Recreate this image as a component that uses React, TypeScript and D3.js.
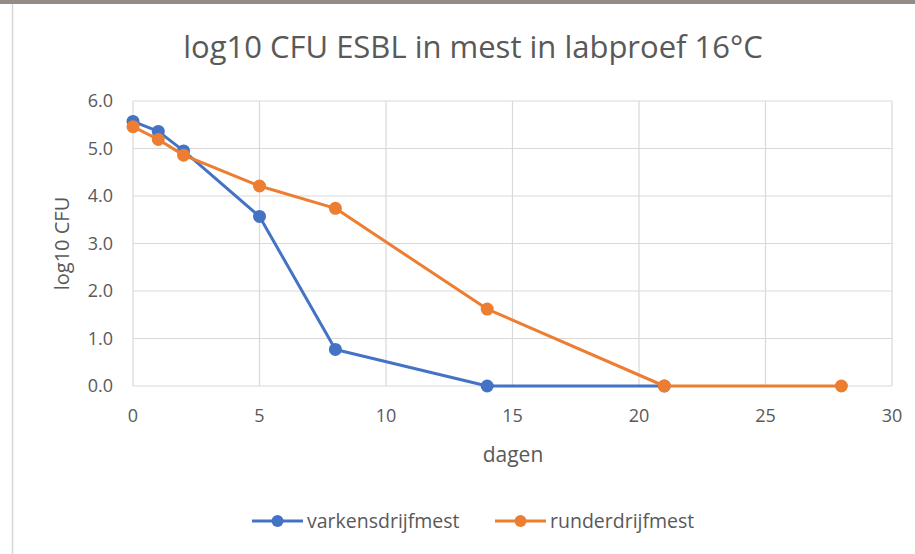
import React, { useRef, useEffect } from 'react';
import * as d3 from 'd3';

const days = [0, 1, 2, 5, 8, 14, 21, 28];
const varkensValues = [5.57, 5.36, 4.95, 3.57, 0.77, 0, 0];
const runderValues = [5.46, 5.19, 4.86, 4.21, 3.74, 1.62, 0, 0];
const xTicks = [0, 5, 10, 15, 20, 25, 30];
const yTicks = [0, 1, 2, 3, 4, 5, 6];

const seriesNames = ['varkensdrijfmest', 'runderdrijfmest'];
const seriesColors = ['#4472C4', '#ED7D31'];

const W = 915;
const H = 554;
const FONT = "'Open Sans', 'Noto Sans', sans-serif";

const App: React.FC = () => {
  const svgRef = useRef<SVGSVGElement>(null);

  useEffect(() => {
    if (!svgRef.current) return;
    const svg = d3.select(svgRef.current);
    svg.selectAll('*').remove();

    // background, frame remnants of the screenshot
    svg.append('rect').attr('width', W).attr('height', H).attr('fill', '#ffffff');
    svg.append('rect').attr('x', 0).attr('y', 0).attr('width', W).attr('height', 4).attr('fill', '#958b85');
    svg.append('line')
      .attr('x1', 12.5).attr('x2', 12.5).attr('y1', 4).attr('y2', H)
      .attr('stroke', '#d6d6d6').attr('stroke-width', 1.5);

    const x = d3.scaleLinear().domain([0, 30]).range([133, 892]);
    const y = d3.scaleLinear().domain([0, 6]).range([386, 101]);

    // gridlines
    svg.append('g').selectAll('line.v')
      .data(xTicks)
      .enter().append('line')
      .attr('x1', d => x(d)).attr('x2', d => x(d))
      .attr('y1', y(6)).attr('y2', y(0))
      .attr('stroke', '#d9d9d9').attr('stroke-width', 1.2);
    svg.append('g').selectAll('line.h')
      .data(yTicks)
      .enter().append('line')
      .attr('x1', x(0)).attr('x2', x(30))
      .attr('y1', d => y(d)).attr('y2', d => y(d))
      .attr('stroke', '#d9d9d9').attr('stroke-width', 1.2);

    // tick labels
    svg.append('g').selectAll('text')
      .data(yTicks)
      .enter().append('text')
      .attr('x', 113).attr('y', d => y(d))
      .attr('dy', '0.35em')
      .attr('text-anchor', 'end')
      .style('font-family', FONT).style('font-size', '18px').style('fill', '#595959')
      .text(d => d.toFixed(1));
    svg.append('g').selectAll('text')
      .data(xTicks)
      .enter().append('text')
      .attr('x', d => x(d)).attr('y', 416)
      .attr('dy', '0.35em')
      .attr('text-anchor', 'middle')
      .style('font-family', FONT).style('font-size', '18px').style('fill', '#595959')
      .text(d => String(d));

    // titles
    svg.append('text')
      .attr('x', 473).attr('y', 47).attr('dy', '0.35em')
      .attr('text-anchor', 'middle')
      .style('font-family', FONT).style('font-size', '31px').style('fill', '#595959')
      .text('log10 CFU ESBL in mest in labproef 16°C');
    svg.append('text')
      .attr('x', 513).attr('y', 455).attr('dy', '0.35em')
      .attr('text-anchor', 'middle')
      .style('font-family', FONT).style('font-size', '21px').style('fill', '#595959')
      .text('dagen');
    svg.append('text')
      .attr('transform', `translate(62,${(y(0) + y(6)) / 2}) rotate(-90)`)
      .attr('dy', '0.35em')
      .attr('text-anchor', 'middle')
      .style('font-family', FONT).style('font-size', '20px').style('fill', '#595959')
      .text('log10 CFU');

    const allSeries = [varkensValues, runderValues];
    const line = d3.line<[number, number]>()
      .x(d => x(d[0]))
      .y(d => y(d[1]));

    allSeries.forEach((vals, i) => {
      const pts: [number, number][] = vals.map((v, j) => [days[j], v]);
      const g = svg.append('g');
      g.append('path')
        .attr('d', line(pts) || '')
        .attr('fill', 'none')
        .attr('stroke', seriesColors[i])
        .attr('stroke-width', 3)
        .attr('stroke-linejoin', 'round');
      g.selectAll('circle')
        .data(pts)
        .enter().append('circle')
        .attr('cx', d => x(d[0]))
        .attr('cy', d => y(d[1]))
        .attr('r', 6.5)
        .attr('fill', seriesColors[i]);
    });

    // legend
    const legendX = [252, 495];
    seriesNames.forEach((name, i) => {
      const lg = svg.append('g').attr('transform', `translate(${legendX[i]},521)`);
      lg.append('line')
        .attr('x1', 0).attr('x2', 51)
        .attr('stroke', seriesColors[i]).attr('stroke-width', 3);
      lg.append('circle').attr('cx', 25.5).attr('r', 6).attr('fill', seriesColors[i]);
      lg.append('text')
        .attr('x', 55).attr('dy', '0.35em')
        .style('font-family', FONT).style('font-size', '19.5px').style('fill', '#595959')
        .text(name);
    });
  }, []);

  return (
    <svg
      ref={svgRef}
      width={W}
      height={H}
      viewBox={`0 0 ${W} ${H}`}
      style={{ position: 'absolute', left: 0, top: 0, display: 'block' }}
    />
  );
};

export default App;
